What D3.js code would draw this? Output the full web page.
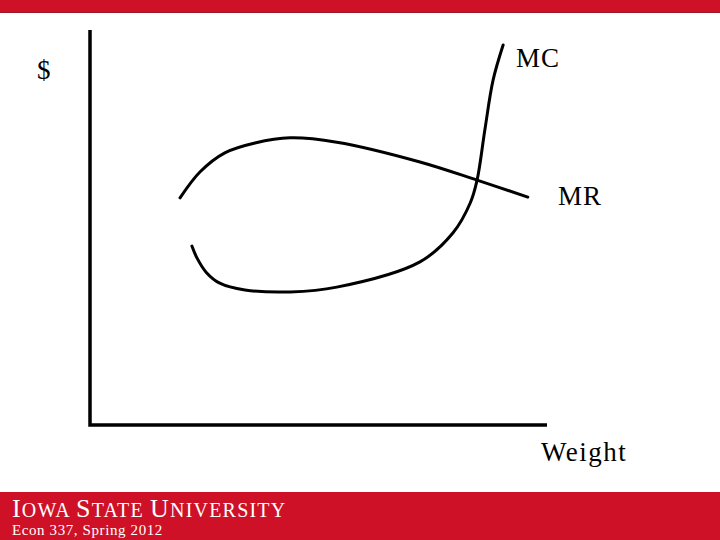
<!DOCTYPE html>
<html>
<head>
<meta charset="utf-8">
<script src="https://cdn.jsdelivr.net/npm/d3@7"></script>
<style>
  body { margin: 0; background: #fff; }
  svg { display: block; }
</style>
</head>
<body>
<div id="chart"></div>
<script>
// curve data (quantity, dollars)
const mr_x = [1.97, 2.41, 2.95, 3.61, 4.38, 5.4, 7.22, 8.47, 9.58];
const mr_y = [5.75, 6.41, 6.89, 7.14, 7.27, 7.16, 6.66, 6.2, 5.77];
const mc_x = [2.23, 2.34, 2.54, 2.84, 3.39, 4.38, 5.4, 7.22, 7.94, 8.32, 8.47, 8.64, 8.82, 9.04];
const mc_y = [4.53, 4.23, 3.87, 3.59, 3.42, 3.37, 3.49, 4.13, 4.86, 5.62, 6.2, 7.47, 8.73, 9.62];
const axis_labels = ["$", "Weight"];
const curve_labels = ["MC", "MR"];

const width = 720;
const height = 540;
const red = "#ce1126";

const svg = d3
	.select("#chart")
	.append("svg")
	.attr("width", width)
	.attr("height", height);

// top band
svg.append("rect").attr("x", 0).attr("y", 0).attr("width", width).attr("height", 12).attr("fill", red);
svg.append("line").attr("x1", 0).attr("x2", width).attr("y1", 12.5).attr("y2", 12.5)
	.attr("stroke", "#9a1a2a").attr("stroke-width", 1);

// bottom band
svg.append("rect").attr("x", 0).attr("y", 492).attr("width", width).attr("height", 48).attr("fill", red);

const x = d3.scaleLinear().domain([0, 10]).range([90, 547]);
const y = d3.scaleLinear().domain([0, 10]).range([425, 30]);

// axes
svg.append("path")
	.attr("d", `M${x(0)},${y(10)} L${x(0)},${y(0)} L${x(10)},${y(0)}`)
	.attr("fill", "none")
	.attr("stroke", "black")
	.attr("stroke-width", 3.5);

const line = d3
	.line()
	.x((d) => x(d[0]))
	.y((d) => y(d[1]))
	.curve(d3.curveCatmullRom.alpha(0.5));

const mr = mr_x.map((v, i) => [v, mr_y[i]]);
const mc = mc_x.map((v, i) => [v, mc_y[i]]);

[mr, mc].forEach((pts) => {
	svg.append("path")
		.datum(pts)
		.attr("d", line)
		.attr("fill", "none")
		.attr("stroke", "black")
		.attr("stroke-width", 3)
		.attr("stroke-linecap", "round");
});

const serif = "'Liberation Serif', 'DejaVu Serif', serif";

svg.append("text").attr("x", 37).attr("y", 79).text(axis_labels[0])
	.attr("font-family", serif).attr("font-size", 27);
svg.append("text").attr("x", 541).attr("y", 461).text(axis_labels[1])
	.attr("font-family", serif).attr("font-size", 27).attr("letter-spacing", 1.5);
svg.append("text").attr("x", 516).attr("y", 67).text(curve_labels[0])
	.attr("font-family", serif).attr("font-size", 27).attr("letter-spacing", 1);
svg.append("text").attr("x", 558).attr("y", 205).text(curve_labels[1])
	.attr("font-family", serif).attr("font-size", 27).attr("letter-spacing", 1);

// footer
const logo = svg.append("text").attr("x", 12).attr("y", 517)
	.attr("font-family", serif).attr("fill", "white").attr("letter-spacing", 1.2);
[["I", 26], ["OWA ", 20], ["S", 26], ["TATE ", 20], ["U", 26], ["NIVERSITY", 20]].forEach(([t, s]) => {
	logo.append("tspan").text(t).attr("font-size", s);
});
svg.append("text").attr("x", 12).attr("y", 535).text("Econ 337, Spring 2012")
	.attr("font-family", serif).attr("font-size", 15).attr("letter-spacing", 0.6).attr("fill", "white");
</script>
</body>
</html>
